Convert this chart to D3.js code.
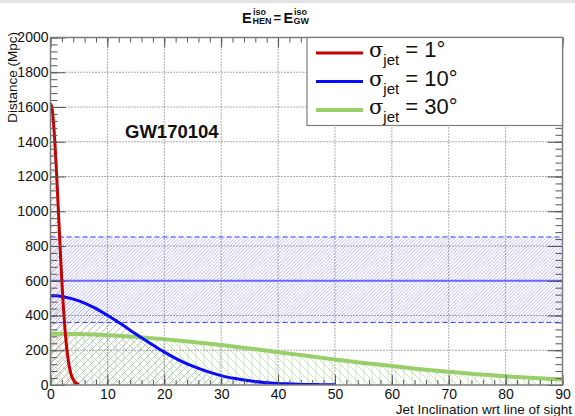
<!DOCTYPE html>
<html>
<head>
<meta charset="utf-8">
<script src="https://cdn.jsdelivr.net/npm/d3@7"></script>
<style>
  body { margin: 0; background: #fff; }
  text { font-family: "Liberation Sans", Arial, Helvetica, sans-serif; }
</style>
</head>
<body>
<div id="chart"></div>
<script>
// values
const redAngle = [0, 0.25, 0.5, 0.75, 1, 1.25, 1.5, 1.75, 2, 2.25, 2.5, 2.75, 3, 3.5, 4, 4.5, 5];
const redDist = [1620, 1595, 1522, 1407, 1262, 1096, 923, 753, 596, 457, 340, 245, 171, 76, 30, 10, 3];

const blueAngle = [0, 2.5, 5, 7.5, 10, 12.5, 15, 17.5, 20, 22.5, 25, 27.5, 30, 32.5, 35, 37.5, 40, 42.5, 45, 47.5, 50];
const blueDist = [515, 507, 484, 448, 401, 349, 293, 240, 189, 145, 108, 78, 54, 37, 24, 15, 9, 6, 3, 2, 1];

const greenAngle = [0, 5, 10, 15, 20, 25, 30, 35, 40, 45, 50, 55, 60, 65, 70, 75, 80, 85, 90];
const greenDist = [295, 293, 287, 277, 264, 248, 230, 210, 189, 168, 147, 127, 109, 91, 76, 62, 50, 40, 31];

// measured distance band (GW170104)
const bandRange = [0, 90];
const bandCenter = 600;
const bandLow = 360;
const bandHigh = 852;

const xTicks = [0, 10, 20, 30, 40, 50, 60, 70, 80, 90];
const yTicks = [0, 200, 400, 600, 800, 1000, 1200, 1400, 1600, 1800, 2000];
const legendLabels = ['1°', '10°', '30°'];

const width = 575;
const height = 416;
const pL = 50.5, pR = 562.5, pT = 37.5, pB = 385;

const x = d3.scaleLinear().domain([0, 90]).range([pL, pR]);
const y = d3.scaleLinear().domain([0, 2000]).range([pB, pT]);

const svg = d3.select('#chart')
  .append('svg')
  .attr('width', width)
  .attr('height', height);

svg.append('rect').attr('x', 0).attr('y', 0).attr('width', width).attr('height', 3).attr('fill', '#e2e2e2');

// hatch patterns
const defs = svg.append('defs');
function slash(id, s, color, w) {
  defs.append('pattern')
    .attr('id', id).attr('patternUnits', 'userSpaceOnUse')
    .attr('width', s).attr('height', s)
    .append('path')
    .attr('d', `M0,${s}L${s},0M${-s / 4},${s / 4}L${s / 4},${-s / 4}M${3 * s / 4},${5 * s / 4}L${5 * s / 4},${3 * s / 4}`)
    .attr('stroke', color).attr('stroke-width', w);
}
slash('hRed', 9, '#f29c9c', 0.8);
slash('hBlue', 7, '#a9b6c9', 0.8);
slash('hBand', 3.5, '#9a9aff', 0.7);

const gp = defs.append('pattern')
  .attr('id', 'hGreen').attr('patternUnits', 'userSpaceOnUse')
  .attr('width', 8).attr('height', 8);
gp.append('path')
  .attr('d', 'M0,0L8,8M-2,6L2,10M6,-2L10,2M4,0L4,8')
  .attr('stroke', '#bfe3ad').attr('stroke-width', 0.8);

defs.append('clipPath').attr('id', 'plotClip')
  .append('rect').attr('x', pL).attr('y', pT).attr('width', pR - pL).attr('height', pB - pT);

const plot = svg.append('g').attr('clip-path', 'url(#plotClip)');

function series(a, d) { return a.map((v, i) => [v, d[i]]); }
const red = series(redAngle, redDist);
const blue = series(blueAngle, blueDist);
const green = series(greenAngle, greenDist);

const area = d3.area().x(d => x(d[0])).y0(y(0)).y1(d => y(d[1])).curve(d3.curveMonotoneX);
const line = d3.line().x(d => x(d[0])).y(d => y(d[1])).curve(d3.curveMonotoneX);

plot.append('path').attr('d', area(green)).attr('fill', 'url(#hGreen)');
plot.append('path').attr('d', area(blue)).attr('fill', 'url(#hBlue)');
plot.append('path').attr('d', area(red)).attr('fill', 'url(#hRed)');

// band
plot.append('rect')
  .attr('x', x(bandRange[0])).attr('width', x(bandRange[1]) - x(bandRange[0]))
  .attr('y', y(bandHigh)).attr('height', y(bandLow) - y(bandHigh))
  .attr('fill', 'url(#hBand)');

// grid
plot.selectAll('.gx').data(xTicks.slice(1, -1)).enter().append('line')
  .attr('x1', d => x(d)).attr('x2', d => x(d)).attr('y1', pT).attr('y2', pB)
  .attr('stroke', '#333').attr('stroke-width', 0.8).attr('stroke-dasharray', '1,2');
plot.selectAll('.gy').data(yTicks.slice(1, -1)).enter().append('line')
  .attr('x1', pL).attr('x2', pR).attr('y1', d => y(d)).attr('y2', d => y(d))
  .attr('stroke', '#333').attr('stroke-width', 0.8).attr('stroke-dasharray', '1,2');

[bandLow, bandHigh].forEach(v => {
  plot.append('line')
    .attr('x1', x(bandRange[0])).attr('x2', x(bandRange[1])).attr('y1', y(v)).attr('y2', y(v))
    .attr('stroke', '#3a3aff').attr('stroke-width', 1).attr('stroke-dasharray', '5,3');
});
plot.append('line')
  .attr('x1', x(bandRange[0])).attr('x2', x(bandRange[1])).attr('y1', y(bandCenter)).attr('y2', y(bandCenter))
  .attr('stroke', '#6a6aff').attr('stroke-width', 2);

// curves
plot.append('path').attr('d', line(green)).attr('fill', 'none').attr('stroke', '#98cf6a').attr('stroke-width', 4);
plot.append('path').attr('d', line(blue)).attr('fill', 'none').attr('stroke', '#0a0aff').attr('stroke-width', 3);
plot.append('path').attr('d', line(red)).attr('fill', 'none').attr('stroke', '#c40000').attr('stroke-width', 3);

// axes, ROOT style ticks inside the frame on all sides
function styleAxis(g) {
  g.select('.domain').remove();
  g.selectAll('.tick line').attr('stroke', '#555');
  g.selectAll('.tick text').attr('fill', '#111').style('font-size', '14px')
    .style('font-family', '"Liberation Sans", Arial, sans-serif');
}
const xMinor = d3.range(0, 91, 2);
const yMinor = d3.range(0, 2001, 40);

svg.append('g').attr('transform', `translate(0,${pB})`)
  .call(d3.axisBottom(x).tickValues(xMinor).tickSize(-5).tickFormat(''))
  .call(styleAxis);
svg.append('g').attr('transform', `translate(0,${pB})`)
  .call(d3.axisBottom(x).tickValues(xTicks).tickSize(-10).tickPadding(4).tickFormat(d3.format('d')))
  .call(styleAxis);
svg.append('g').attr('transform', `translate(0,${pT})`)
  .call(d3.axisTop(x).tickValues(xMinor).tickSize(-5).tickFormat(''))
  .call(styleAxis);
svg.append('g').attr('transform', `translate(0,${pT})`)
  .call(d3.axisTop(x).tickValues(xTicks).tickSize(-10).tickFormat(''))
  .call(styleAxis);

svg.append('g').attr('transform', `translate(${pL},0)`)
  .call(d3.axisLeft(y).tickValues(yMinor).tickSize(-7).tickFormat(''))
  .call(styleAxis);
svg.append('g').attr('transform', `translate(${pL},0)`)
  .call(d3.axisLeft(y).tickValues(yTicks).tickSize(-15).tickPadding(2).tickFormat(d3.format('d')))
  .call(styleAxis);
svg.append('g').attr('transform', `translate(${pR},0)`)
  .call(d3.axisRight(y).tickValues(yMinor).tickSize(-7).tickFormat(''))
  .call(styleAxis);
svg.append('g').attr('transform', `translate(${pR},0)`)
  .call(d3.axisRight(y).tickValues(yTicks).tickSize(-15).tickFormat(''))
  .call(styleAxis);

// frame
svg.append('rect')
  .attr('x', pL).attr('y', pT).attr('width', pR - pL).attr('height', pB - pT)
  .attr('fill', 'none').attr('stroke', '#7d7d7d').attr('stroke-width', 1.5);

// axis titles
svg.append('text')
  .attr('transform', 'translate(17,32) rotate(-90)')
  .attr('text-anchor', 'end')
  .style('font-size', '13.5px').attr('fill', '#111')
  .text('Distance (Mpc)');
svg.append('text')
  .attr('x', 572).attr('y', 414)
  .attr('text-anchor', 'end')
  .style('font-size', '13.5px').attr('fill', '#111')
  .text('Jet Inclination wrt line of sight');

// title E^iso_HEN = E^iso_GW
const title = svg.append('g').attr('fill', '#111').style('font-weight', 'bold');
title.append('text').attr('x', 242).attr('y', 23).style('font-size', '14.5px').text('E');
title.append('text').attr('x', 253).attr('y', 15).style('font-size', '9px').text('iso');
title.append('text').attr('x', 252.5).attr('y', 23.5).style('font-size', '9px').text('HEN');
title.append('text').attr('x', 273.5).attr('y', 22).style('font-size', '13px').text('=');
title.append('text').attr('x', 283.5).attr('y', 23).style('font-size', '14.5px').text('E');
title.append('text').attr('x', 294).attr('y', 15).style('font-size', '9px').text('iso');
title.append('text').attr('x', 293.5).attr('y', 23.5).style('font-size', '9px').text('GW');

svg.append('text')
  .attr('x', 125).attr('y', 138)
  .style('font-size', '18.5px').style('font-weight', 'bold').attr('fill', '#111')
  .text('GW170104');

// legend
const legend = svg.append('g');
legend.append('rect')
  .attr('x', 307).attr('y', pT).attr('width', pR - 307).attr('height', 88)
  .attr('fill', '#fff').attr('stroke', '#7d7d7d').attr('stroke-width', 1.2);
const legendColors = ['#c40000', '#0a0aff', '#98cf6a'];
const legendWidths = [3, 3, 4];
legendLabels.forEach((lab, i) => {
  const base = 57 + i * 28.5;
  legend.append('line')
    .attr('x1', 316).attr('x2', 363).attr('y1', base - 4).attr('y2', base - 4)
    .attr('stroke', legendColors[i]).attr('stroke-width', legendWidths[i]);
  const t = legend.append('text').attr('x', 369).attr('y', base).attr('fill', '#111').style('font-size', '22px');
  t.append('tspan').style('font-family', '"DejaVu Serif", serif').style('font-size', '21px').text('σ');
  t.append('tspan').attr('dy', 8).style('font-size', '15px').text('jet');
  t.append('tspan').attr('dy', -8).text(' = ' + lab);
});
</script>
</body>
</html>
